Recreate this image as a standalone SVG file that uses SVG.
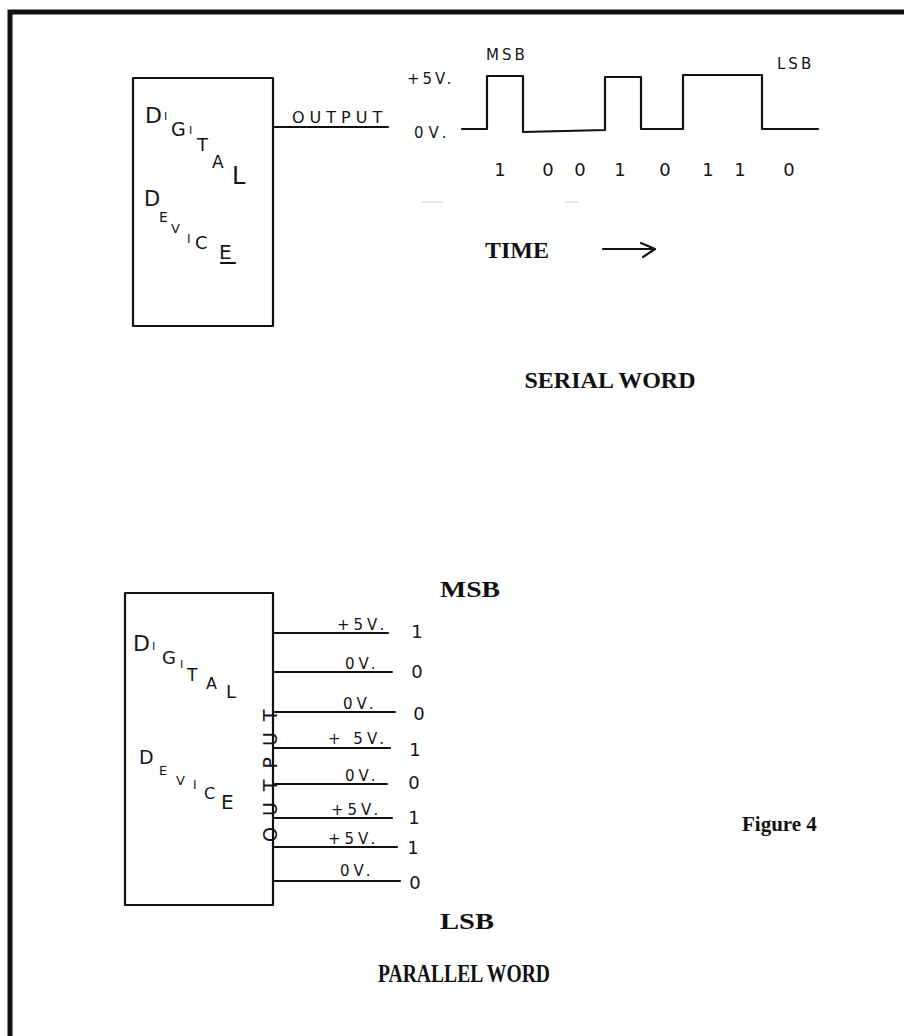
<svg xmlns="http://www.w3.org/2000/svg" width="904" height="1036" viewBox="0 0 904 1036">
<style>
.ln{fill:none;stroke:#111;stroke-width:2.2;stroke-linecap:round;stroke-linejoin:round}
.hw{font-family:"DejaVu Sans",sans-serif;font-weight:normal;fill:#151515}
.ty{font-family:"Liberation Serif",serif;font-weight:bold;fill:#111}
.big{font-size:24px}
.dig{font-family:"DejaVu Sans",sans-serif;font-weight:normal;font-size:18px;fill:#151515}
.pl{font-size:15px;letter-spacing:4px}
</style>
<rect width="904" height="1036" fill="#fff"/>
<path d="M10 1036 V12 H904" fill="none" stroke="#111" stroke-width="5"/>

<g id="serial-device">
<rect x="133" y="78" width="140" height="248" class="ln" stroke-width="2.5"/>
<g class="hw">
<text x="145" y="123" font-size="22">D</text>
<text x="164" y="120" font-size="11">I</text>
<text x="171" y="136" font-size="19">G</text>
<text x="189" y="134" font-size="11">I</text>
<text x="197" y="151" font-size="18">T</text>
<text x="212" y="168" font-size="17">A</text>
<text x="232" y="184" font-size="24">L</text>
<text x="144" y="206" font-size="21">D</text>
<text x="159" y="222" font-size="14">E</text>
<text x="171" y="233" font-size="13">V</text>
<text x="187" y="243" font-size="12">I</text>
<text x="195" y="249" font-size="18">C</text>
<text x="219" y="259" font-size="20">E</text>
</g>
<line x1="221" y1="263" x2="235" y2="263" class="ln" stroke-width="1.6"/>
</g>

<g id="serial-output">
<line x1="273" y1="127" x2="388" y2="127" class="ln"/>
<text x="292" y="123" class="hw" font-size="16" letter-spacing="5">OUTPUT</text>
</g>

<g id="waveform">
<polyline class="ln" stroke-width="2.6" points="462,129 487,129 487,76 523,76 523,132 605,130 605,77 641,77 641,129 683,129 683,75 762,75 762,129 818,129"/>
<g class="hw" font-size="15">
<text x="407" y="84" letter-spacing="3">+5V.</text>
<text x="414" y="138" letter-spacing="5">0V.</text>
<text x="486" y="60" letter-spacing="3">MSB</text>
<text x="777" y="69" letter-spacing="3">LSB</text>
</g>
<g class="dig">
<text x="500" y="176" text-anchor="middle">1</text>
<text x="548" y="176" text-anchor="middle">0</text>
<text x="580" y="176" text-anchor="middle">0</text>
<text x="620" y="176" text-anchor="middle">1</text>
<text x="665" y="176" text-anchor="middle">0</text>
<text x="708" y="176" text-anchor="middle">1</text>
<text x="740" y="176" text-anchor="middle">1</text>
<text x="789" y="176" text-anchor="middle">0</text>
</g>
<line x1="422" y1="202" x2="443" y2="202" stroke="#ccc" stroke-width="1"/>
<line x1="565" y1="202" x2="578" y2="202" stroke="#ccc" stroke-width="1"/>
<text x="485" y="258" class="ty big">TIME</text>
<path d="M603 249 H652 M641 243 L655 249 L643 257" class="ln" stroke-width="2.4"/>
<text x="610" y="388" class="ty big" text-anchor="middle">SERIAL WORD</text>
</g>

<g id="parallel-device">
<rect x="125" y="593" width="148" height="312" class="ln" stroke-width="2.5"/>
<g class="hw">
<text x="133" y="651" font-size="22">D</text>
<text x="152" y="650" font-size="11">I</text>
<text x="162" y="664" font-size="18">G</text>
<text x="180" y="668" font-size="11">I</text>
<text x="187" y="681" font-size="17">T</text>
<text x="206" y="689" font-size="16">A</text>
<text x="226" y="698" font-size="18">L</text>
<text x="139" y="764" font-size="19">D</text>
<text x="159" y="775" font-size="13">E</text>
<text x="176" y="785" font-size="13">V</text>
<text x="193" y="789" font-size="12">I</text>
<text x="204" y="799" font-size="16">C</text>
<text x="221" y="809" font-size="20">E</text>
</g>
<text transform="translate(277 842) rotate(-90)" class="hw" font-size="19" letter-spacing="11">OUTPUT</text>
</g>

<g id="parallel-lines">
<line x1="273" y1="633" x2="388" y2="633" class="ln"/>
<line x1="273" y1="672" x2="392" y2="672" class="ln"/>
<line x1="273" y1="712" x2="395" y2="712" class="ln"/>
<line x1="273" y1="748" x2="390" y2="748" class="ln"/>
<line x1="273" y1="784" x2="387" y2="784" class="ln"/>
<line x1="273" y1="818" x2="392" y2="818" class="ln"/>
<line x1="273" y1="847" x2="397" y2="847" class="ln"/>
<line x1="273" y1="881" x2="400" y2="881" class="ln"/>
</g>

<g id="parallel-labels" class="hw pl">
<text x="337" y="630">+5V.</text>
<text x="345" y="669">0V.</text>
<text x="343" y="709">0V.</text>
<text x="328" y="744">+ 5V.</text>
<text x="345" y="781">0V.</text>
<text x="331" y="815">+5V.</text>
<text x="328" y="844">+5V.</text>
<text x="340" y="876">0V.</text>
</g>

<g id="parallel-bits" class="dig">
<text x="417" y="638" text-anchor="middle">1</text>
<text x="417" y="678" text-anchor="middle">0</text>
<text x="419" y="720" text-anchor="middle">0</text>
<text x="415" y="756" text-anchor="middle">1</text>
<text x="414" y="789" text-anchor="middle">0</text>
<text x="414" y="824" text-anchor="middle">1</text>
<text x="413" y="854" text-anchor="middle">1</text>
<text x="415" y="889" text-anchor="middle">0</text>
</g>

<g id="captions">
<text x="440" y="597" class="ty" font-size="23" textLength="60" lengthAdjust="spacingAndGlyphs">MSB</text>
<text x="440" y="929" class="ty" font-size="23" textLength="54" lengthAdjust="spacingAndGlyphs">LSB</text>
<text x="742" y="831" class="ty" font-size="21">Figure 4</text>
<text x="378" y="982" class="ty" font-size="25" textLength="172" lengthAdjust="spacingAndGlyphs">PARALLEL WORD</text>
</g>
</svg>
